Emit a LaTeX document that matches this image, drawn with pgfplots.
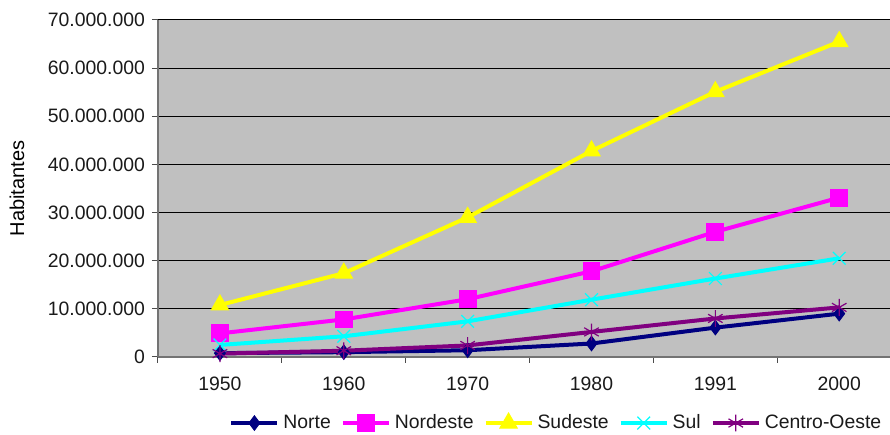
\documentclass[border=0pt]{standalone}
\usepackage{pgfplots}
\pgfplotsset{compat=1.18}
\usepackage{fontspec}
\setmainfont{Liberation Sans}
\usetikzlibrary{calc}
\definecolor{plotbg}{HTML}{C0C0C0}
\definecolor{norte}{HTML}{000080}
\definecolor{nordeste}{HTML}{FF00FF}
\definecolor{sudeste}{HTML}{FFFF00}
\definecolor{sul}{HTML}{00FFFF}
\definecolor{coeste}{HTML}{800080}
\definecolor{txt}{HTML}{1A1A1A}
\begin{document}
\begin{tikzpicture}
\begin{axis}[
  scale only axis,
  width=366pt, height=168.5pt,
  xmin=-0.5, xmax=5.41,
  ymin=0, ymax=70000000,
  clip=false,
  axis background/.style={fill=plotbg},
  axis x line=bottom, axis y line=left,
  axis line style={-, draw=black!55, line width=1pt},
  xtick={0,1,2,3,4,5},
  xticklabels={1950,1960,1970,1980,1991,2000},
  minor xtick={-0.5,0.5,1.5,2.5,3.5,4.5},
  major x tick style={draw=none},
  minor x tick style={draw=black!70, line width=0.5pt},
  minor tick length=3pt,
  ytick={0,10000000,20000000,30000000,40000000,50000000,60000000,70000000},
  yticklabels={0,10.000.000,20.000.000,30.000.000,40.000.000,50.000.000,60.000.000,70.000.000},
  scaled y ticks=false,
  ytick style={draw=black!70, line width=0.5pt},
  major tick length=3pt,
  tick align=outside,
  xtick pos=bottom, ytick pos=left,
  ymajorgrids,
  major grid style={draw=black, line width=0.5pt},
  tick label style={font=\fontsize{9.7}{11}\selectfont, text=txt},
  yticklabel style={xshift=0pt},
  xticklabel style={yshift=-3.5pt},
  ylabel={Habitantes},
  ylabel style={font=\fontsize{9.7}{11}\selectfont, text=txt},
  every axis y label/.style={at={(axis description cs:-0.1926,0.5)}, rotate=90, anchor=center},
  legend columns=-1,
  legend style={draw=none, fill=none, at={(0.0970,-0.196)}, anchor=west,
    inner sep=0pt, font=\fontsize{9.7}{11}\selectfont, text=txt,
    /tikz/every even column/.append style={column sep=3pt}},
  legend image code/.code={\draw[mark repeat=2,mark phase=2] plot coordinates {(0pt,0pt) (11.5pt,0pt) (23pt,0pt)};},
  every axis plot/.append style={line width=2pt},
]
\addplot[norte, mark=diamond*, mark size=3.6pt, mark options={solid, line width=0.5pt, fill=norte}]
  coordinates {(0,800000) (1,1000000) (2,1400000) (3,2800000) (4,6100000) (5,9000000)};
\addlegendentry{Norte}
\addplot[nordeste, mark=square*, mark size=4.2pt, mark options={line width=0.5pt, fill=nordeste}]
  coordinates {(0,4900000) (1,7800000) (2,12000000) (3,17800000) (4,26000000) (5,33100000)};
\addlegendentry{Nordeste}
\addplot[sudeste, mark=triangle*, mark size=5pt, mark options={line width=0.5pt, fill=sudeste}]
  coordinates {(0,10800000) (1,17400000) (2,29000000) (3,42800000) (4,55100000) (5,65500000)};
\addlegendentry{Sudeste}
\addplot[sul, mark=x, mark size=4.5pt, mark options={line width=0.6pt}]
  coordinates {(0,2500000) (1,4300000) (2,7400000) (3,11900000) (4,16300000) (5,20500000)};
\addlegendentry{Sul}
\addplot[coeste, mark=asterisk, mark size=4.2pt, mark options={line width=0.6pt}]
  coordinates {(0,700000) (1,1300000) (2,2400000) (3,5200000) (4,8000000) (5,10300000)};
\addlegendentry{Centro-Oeste}
\end{axis}
\pgfresetboundingbox
\path ($(current axis.south west)+(-79pt,-39pt)$) rectangle ($(current axis.north east)+(0pt,10pt)$);
\end{tikzpicture}
\end{document}
